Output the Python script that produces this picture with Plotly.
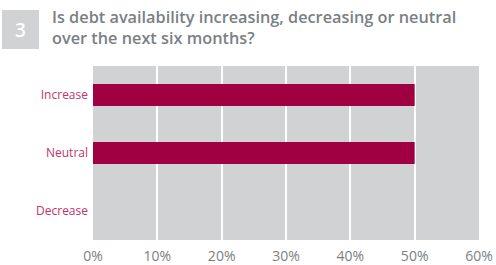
import plotly.graph_objects as go

categories = ["Increase", "Neutral", "Decrease"]
values = [50, 50, 0]
tick_vals = [0, 10, 20, 30, 40, 50, 60]
tick_text = ["0%", "10%", "20%", "30%", "40%", "50%", "60%"]

L, R, T, B = 93, 17, 66, 25
W, H = 496, 265
PW, PH = W - L - R, H - T - B


def px_x(x):
    return (x - L) / PW


def px_y(y):
    return (H - B - y) / PH


fig = go.Figure(go.Bar(
    x=values, y=categories, orientation="h",
    marker=dict(color="#a00042", line=dict(width=0)),
    width=0.38,
))

fig.update_layout(
    width=W, height=H,
    margin=dict(l=L, r=R, t=T, b=B, autoexpand=False),
    paper_bgcolor="white",
    plot_bgcolor="#d1d2d4",
    showlegend=False,
    font=dict(family="Open Sans", color="#777a7e"),
)
fig.update_xaxes(
    range=[0, 60], tickvals=tick_vals, ticktext=tick_text,
    showgrid=True, gridcolor="white", gridwidth=2,
    zeroline=False, showline=False, ticks="", automargin=False,
    tickfont=dict(size=14, color="#7b7e82"),
    ticklabelstandoff=6,
)
fig.update_yaxes(
    categoryorder="array", categoryarray=categories[::-1],
    showgrid=False, zeroline=False, showline=False, ticks="", automargin=False,
    tickfont=dict(size=12, color="#c2336b"),
    ticklabelstandoff=4,
)

fig.add_shape(type="rect", xref="paper", yref="paper",
              x0=px_x(2), x1=px_x(39), y0=px_y(49), y1=px_y(10),
              fillcolor="#d1d2d4", line=dict(width=0))
fig.add_annotation(text="3", xref="paper", yref="paper",
                   x=px_x(20.5), y=px_y(30), showarrow=False,
                   xanchor="center", yanchor="middle",
                   font=dict(size=19, color="white", family="Open Sans", weight=600))
fig.add_annotation(text="Is debt availability increasing, decreasing or neutral<br>over the next six months?",
                   xref="paper", yref="paper", x=px_x(50), y=px_y(4),
                   xanchor="left", yanchor="top", align="left", showarrow=False,
                   font=dict(size=16.3, color="#7a7f85", family="Open Sans", weight=600))

fig.write_html("out.html", config={"displayModeBar": False},
               post_script="document.body.style.margin='0';document.body.style.overflow='hidden';")
